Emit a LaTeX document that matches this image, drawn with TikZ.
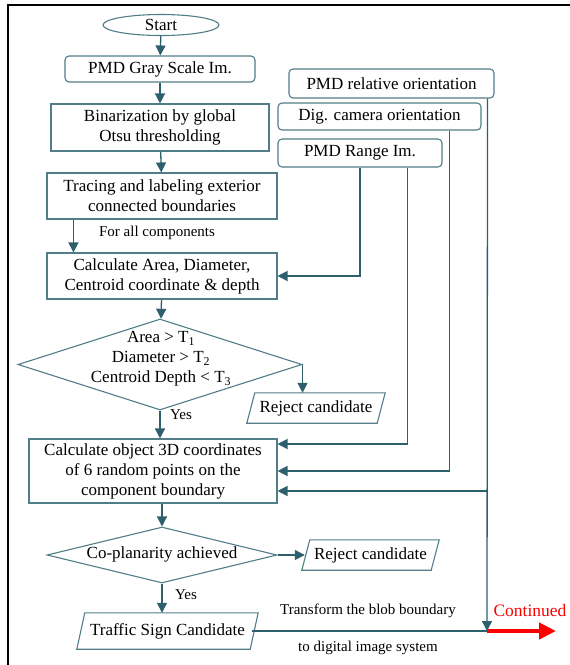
\documentclass[tikz,border=0pt]{standalone}
\usepackage{fontspec}
\setmainfont{Liberation Serif}
\usetikzlibrary{shapes.geometric,arrows.meta}
\definecolor{bc}{RGB}{80,125,135}
\definecolor{ac}{RGB}{45,95,108}
\begin{document}
\begin{tikzpicture}[x=1pt,y=-1pt,
  font=\fontsize{17}{20}\selectfont,
  box/.style={draw=bc, line width=1.1pt, align=center, inner sep=0pt, text=black},
  rbox/.style={box, rounded corners=4pt},
  pbox/.style={draw=none, align=center, inner sep=0pt, text=black},
  pline/.style={draw=bc, line width=1.1pt},
  arr/.style={draw=ac, line width=1.3pt, -{Triangle[length=10pt,width=10pt]}},
  ln/.style={draw=ac, line width=1.3pt},
  lbl/.style={font=\fontsize{15}{17}\selectfont, inner sep=0pt}]
\useasboundingbox (0,0) rectangle (570,665);
% frame
\draw[line width=2.5pt, line cap=rect] (8,665) -- (8,5) -- (570,5);
% left column
\node[box, ellipse, minimum width=116pt, minimum height=21pt] (start) at (161,25) {Start};
\node[rbox, minimum width=190pt, minimum height=26pt] (gray) at (160,69) {PMD Gray Scale Im.};
\node[box, minimum width=218pt, minimum height=47pt] (bin) at (160,127.5) {Binarization by global\\Otsu thresholding};
\node[box, minimum width=230pt, minimum height=46pt] (trace) at (162,196) {Tracing and labeling exterior\\connected boundaries};
\node[lbl] (forall) at (157,233) {For all components};
\node[box, minimum width=230pt, minimum height=46pt] (area) at (162,276) {Calculate Area, Diameter,\\Centroid coordinate \&\ depth};
\node[box, diamond, minimum width=284pt, minimum height=91pt] (d1) at (160,364.5) {};
\node[align=center, inner sep=0pt] (d1t) at (161,359) {Area > T\textsubscript{1}\\Diameter > T\textsubscript{2}\\Centroid Depth < T\textsubscript{3}};
\node[pbox, minimum width=130pt, minimum height=30pt] (r1) at (316,408) {Reject candidate};
\draw[pline] ([xshift=-4pt]r1.south west) -- ([xshift=4pt]r1.north west) -- ([xshift=4pt]r1.north east) -- ([xshift=-4pt]r1.south east) -- cycle;
\node[lbl] (yes1) at (181,415) {Yes};
\node[box, minimum width=248pt, minimum height=64pt] (c3) at (153,471) {Calculate object 3D coordinates\\of 6 random points on the\\component boundary};
\node[box, diamond, minimum width=230pt, minimum height=56pt] (d2) at (162,555) {};
\node[inner sep=0pt] (d2t) at (162,554) {Co-planarity achieved};
\node[pbox, minimum width=129pt, minimum height=30pt] (r2) at (370.5,555) {Reject candidate};
\draw[pline] ([xshift=-4pt]r2.south west) -- ([xshift=4pt]r2.north west) -- ([xshift=4pt]r2.north east) -- ([xshift=-4pt]r2.south east) -- cycle;
\node[lbl] (yes2) at (186,595) {Yes};
\node[pbox, minimum width=173pt, minimum height=36pt] (tr) at (167.5,631) {Traffic Sign Candidate};
\draw[pline] ([xshift=-4pt]tr.south west) -- ([xshift=4pt]tr.north west) -- ([xshift=4pt]tr.north east) -- ([xshift=-4pt]tr.south east) -- cycle;
% right boxes
\node[rbox, minimum width=205pt, minimum height=29pt] (rel) at (391.5,83.5) {PMD relative orientation};
\node[rbox, minimum width=203pt, minimum height=27pt] (dig) at (379.5,116.5) {Dig. camera orientation};
\node[rbox, minimum width=164pt, minimum height=28pt] (range) at (360,153) {PMD Range Im.};
% labels bottom
\node[lbl] (tf1) at (368,611) {Transform the blob boundary};
\node[lbl] (tf2) at (368,648) {to digital image system};
\node[inner sep=0pt, text=red, font=\fontsize{17.5}{20}\selectfont] (cont) at (530,611) {Continued};
\coordinate (cj) at (487,631);
\coordinate (ce) at (556,631);
% connectors
\draw[arr] (start) -- (gray);
\draw[arr] (gray) -- (bin);
\draw[arr] (bin) -- (trace);
\draw[arr] ([xshift=27pt]trace.south west) -- ([xshift=27pt]area.north west);
\draw[arr] (range.south) |- (area.east);
\draw[arr] (area) -- (d1);
\draw[arr] (d1.east) -- (d1.east |- r1.north);
\draw[arr] (d1.south) -- (d1.south |- c3.north);
\draw[arr] ([xshift=-35pt]range.south east) |- ([yshift=27pt]c3.east);
\draw[arr] ([xshift=-32pt]dig.south east) |- (c3.east);
\draw[arr] ([xshift=-7pt]rel.south east) |- ([yshift=-20pt]c3.east);
\draw[arr] ([xshift=-7pt]rel.south east) -- (cj);
\draw[arr] (d2.north |- c3.south) -- (d2.north);
\draw[arr] (d2.east) -- ([xshift=-1pt]r2.west);
\draw[arr] (d2.south) -- (d2.south |- tr.north);
\draw[ln] ([xshift=-2pt]tr.east) -- (cj);
\draw[red, line width=4.5pt, -{Triangle[length=17pt,width=16pt]}] (cj) -- (ce);
\end{tikzpicture}
\end{document}
